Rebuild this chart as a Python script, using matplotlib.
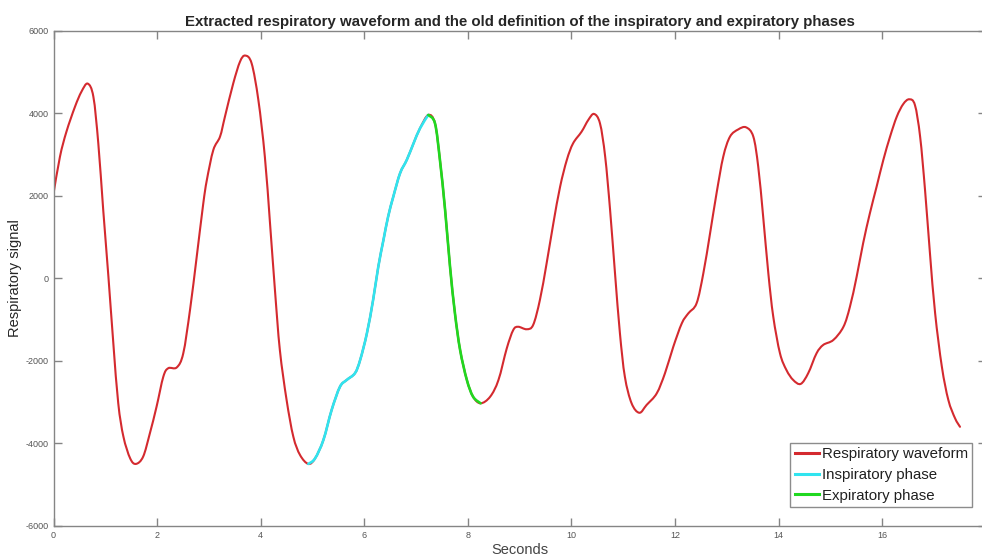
import numpy as np
import matplotlib
matplotlib.use("Agg")
import matplotlib.pyplot as plt
from matplotlib.path import Path
from matplotlib.patches import PathPatch
from matplotlib.lines import Line2D

plt.rcParams["font.family"] = ["Liberation Sans", "DejaVu Sans"]
plt.rcParams["axes.unicode_minus"] = False

# Respiratory waveform samples (time in seconds, signal in arbitrary units)
t_sec = [
    0.00, 0.125, 0.25, 0.415, 0.54, 0.66, 0.77, 0.865, 0.96, 1.06,
    1.155, 1.25, 1.35, 1.48, 1.59, 1.73, 1.86, 1.99, 2.12, 2.215,
    2.38, 2.505, 2.635, 2.765, 2.89, 2.96, 3.085, 3.215, 3.31, 3.47,
    3.60, 3.70, 3.825, 3.955, 4.08, 4.18, 4.275, 4.37, 4.50, 4.63,
    4.76, 4.92, 5.05, 5.21, 5.37, 5.53, 5.66, 5.82, 5.92, 6.05,
    6.17, 6.27, 6.37, 6.46, 6.56, 6.69, 6.82, 6.95, 7.075, 7.235,
    7.365, 7.46, 7.56, 7.655, 7.75, 7.85, 7.98, 8.10, 8.245, 8.43,
    8.59, 8.75, 8.875, 8.97, 9.135, 9.26, 9.39, 9.52, 9.65, 9.78,
    9.91, 10.03, 10.195, 10.325, 10.435, 10.55, 10.65, 10.745, 10.84, 10.935,
    11.03, 11.16, 11.31, 11.45, 11.645, 11.805, 11.965, 12.13, 12.255, 12.415,
    12.545, 12.675, 12.80, 12.93, 13.06, 13.22, 13.37, 13.51, 13.605, 13.70,
    13.80, 13.895, 14.025, 14.15, 14.28, 14.425, 14.57, 14.73, 14.86, 15.055,
    15.25, 15.375, 15.505, 15.63, 15.76, 15.89, 16.02, 16.15, 16.28, 16.405,
    16.52, 16.63, 16.73, 16.825, 16.92, 17.02, 17.15, 17.275, 17.405, 17.50,
]
signal = [
    2050, 2950, 3555, 4160, 4525, 4720, 4400, 3270, 1655, 40,
    -1575, -3030, -3840, -4365, -4500, -4325, -3760, -3110, -2385, -2180,
    -2160, -1820, -770, 525, 1800, 2380, 3110, 3435, 3920, 4725,
    5250, 5400, 5210, 4320, 2950, 1330, -285, -1740, -2950, -3840,
    -4285, -4500, -4365, -3920, -3190, -2630, -2465, -2300, -1980, -1335,
    -525, 280, 930, 1495, 1980, 2545, 2870, 3270, 3635, 3960,
    3755, 2870, 1655, 280, -850, -1740, -2465, -2870, -3030, -2870,
    -2465, -1700, -1255, -1175, -1235, -1130, -525, 365, 1335, 2220,
    2870, 3270, 3555, 3840, 3985, 3755, 2950, 1655, 120, -1335,
    -2385, -3030, -3260, -3070, -2790, -2300, -1660, -1090, -850, -605,
    120, 1090, 2060, 2950, 3435, 3610, 3660, 3435, 2705, 1495,
    120, -930, -1820, -2225, -2465, -2560, -2300, -1820, -1615, -1495,
    -1175, -690, 40, 850, 1575, 2220, 2870, 3435, 3920, 4225,
    4340, 4200, 3435, 2140, 605, -850, -2145, -2950, -3395, -3600,
]

# Phase boundaries (s): trough -> peak is inspiration, peak -> trough is expiration
insp_start, insp_end = 4.92, 7.235
exp_start, exp_end = 7.235, 8.245

series_labels = ["Respiratory waveform", "Inspiratory phase", "Expiratory phase"]
x_ticks = [0, 2, 4, 6, 8, 10, 12, 14, 16, 18]
x_tick_labels = ["0", "2", "4", "6", "8", "10", "12", "14", "16", ""]
y_ticks = [-6000, -4000, -2000, 0, 2000, 4000, 6000]

t = np.array(t_sec)
s = np.array(signal)
insp = (t >= insp_start) & (t <= insp_end)
expi = (t >= exp_start) & (t <= exp_end)


def smooth_path(x, y, tension=1.0 / 6.0):
    """Cubic Bezier path passing through every sample (Catmull-Rom handles)."""
    x = np.asarray(x, float)
    y = np.asarray(y, float)
    n = len(x)
    verts = [(x[0], y[0])]
    codes = [Path.MOVETO]
    for i in range(n - 1):
        i0 = max(i - 1, 0)
        i3 = min(i + 2, n - 1)
        c1 = (x[i] + (x[i + 1] - x[i0]) * tension, y[i] + (y[i + 1] - y[i0]) * tension)
        c2 = (x[i + 1] - (x[i3] - x[i]) * tension, y[i + 1] - (y[i3] - y[i]) * tension)
        verts += [c1, c2, (x[i + 1], y[i + 1])]
        codes += [Path.CURVE4] * 3
    return Path(verts, codes)


fig = plt.figure(figsize=(9.82, 5.56), dpi=100)
ax = fig.add_axes([53.5 / 982, 30.2 / 556, 932.4 / 982, 495.0 / 556])

red = "#d42a2f"
cyan = "#30e4ef"
green = "#20d820"

for mask, col, lw in [(np.ones_like(t, bool), red, 1.5), (insp, cyan, 1.9), (expi, green, 1.9)]:
    ax.add_patch(PathPatch(smooth_path(t[mask], s[mask]), facecolor="none",
                           edgecolor=col, lw=lw, capstyle="round", joinstyle="round"))

ax.set_xlim(0, 18)
ax.set_ylim(-6000, 6000)
ax.set_xticks(x_ticks)
ax.set_xticklabels(x_tick_labels)
ax.set_yticks(y_ticks)

spine_col = "#858585"
for sp in ax.spines.values():
    sp.set_color(spine_col)
    sp.set_linewidth(1.0)
ax.tick_params(which="both", direction="in", top=True, right=True,
               length=6, width=1.0, color=spine_col,
               labelsize=6.5, labelcolor="#555555", pad=3.5)

ax.set_title("Extracted respiratory waveform and the old definition of the "
             "inspiratory and expiratory phases",
             fontsize=10.8, fontweight="bold", color="#262626", pad=3.5)
ax.set_xlabel("Seconds", fontsize=10.5, color="#444444")
ax.set_ylabel("Respiratory signal", fontsize=10.5, color="#262626")
ax.xaxis.set_label_coords(0.5, -0.034)
ax.yaxis.set_label_coords(-0.034, 0.5)

handles = [Line2D([], [], color=c, lw=2.2) for c in (red, cyan, green)]
leg = ax.legend(handles, series_labels, loc="upper left",
                bbox_to_anchor=(790 / 982, 1 - 442.7 / 556),
                bbox_transform=fig.transFigure, fontsize=10.8,
                handlelength=1.6, handletextpad=0.2, borderpad=0.3,
                labelspacing=0.45, borderaxespad=0, fancybox=False,
                framealpha=1, edgecolor="#8c8c8c")
leg.get_frame().set_linewidth(1.0)
for txt in leg.get_texts():
    txt.set_color("#202020")

fig.savefig("out.png", dpi=100)
